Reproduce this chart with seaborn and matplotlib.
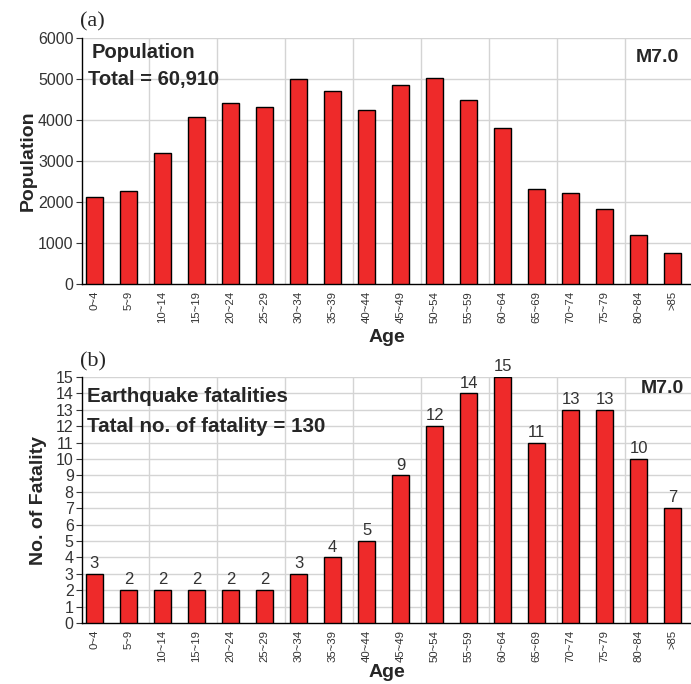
import matplotlib
matplotlib.use("Agg")
import matplotlib.pyplot as plt
import seaborn as sns
import pandas as pd

ages = ["0~4", "5~9", "10~14", "15~19", "20~24", "25~29", "30~34", "35~39",
        "40~44", "45~49", "50~54", "55~59", "60~64", "65~69", "70~74",
        "75~79", "80~84", ">85"]
population = [2130, 2270, 3190, 4070, 4410, 4320, 5000, 4720, 4240, 4850,
              5020, 4490, 3810, 2320, 2230, 1820, 1200, 760]
fatalities = [3, 2, 2, 2, 2, 2, 3, 4, 5, 9, 12, 14, 15, 11, 13, 13, 10, 7]

sns.set_style("white")
plt.rcParams['font.family'] = ['Liberation Sans', 'DejaVu Sans']

BAR = "#EE2A2A"
GRID = "#d4d4d4"
TICKC = "#333333"

fig = plt.figure(figsize=(6.91, 6.84), dpi=100)
ax1 = fig.add_axes([0.1187, 0.5848, 0.8813, 0.3596])
ax2 = fig.add_axes([0.1187, 0.0892, 0.8813, 0.3596])

df = pd.DataFrame({"Age": ages, "Population": population, "Fatality": fatalities})


def style(ax, ymax, ystep, label_y):
    ax.set_xlim(-0.36, 17.53)
    ax.set_ylim(0, ymax)
    ax.set_yticks(range(0, ymax + 1, ystep))
    for y in range(ystep, ymax + 1, ystep):
        ax.axhline(y, color=GRID, lw=1.0, zorder=0)
    for k in range(1, 9):
        ax.axvline(-0.4 + 2 * k, color=GRID, lw=1.0, zorder=0)
    for s in ["top", "right"]:
        ax.spines[s].set_visible(False)
    for s in ["left", "bottom"]:
        ax.spines[s].set_color("black")
        ax.spines[s].set_linewidth(1.0)
    ax.tick_params(axis="x", rotation=90, labelsize=8.2, colors=TICKC,
                   length=0, pad=5)
    ax.tick_params(axis="y", labelsize=11.5, colors=TICKC, length=4,
                   width=0.8, direction="out", left=True, pad=2)
    lab = ax.set_xlabel("Age", fontsize=14, fontweight="bold")
    lab.set_va("center")
    ax.xaxis.set_label_coords(0.5, label_y)
    ax.grid(False)


sns.barplot(data=df, x="Age", y="Population", color=BAR, saturation=1,
            width=0.5, edgecolor="black", linewidth=1, ax=ax1, zorder=3)
style(ax1, 6000, 1000, -(338 - 284) / 246)
ax1.set_ylabel("Population", fontsize=14, fontweight="bold", labelpad=1)

sns.barplot(data=df, x="Age", y="Fatality", color=BAR, saturation=1,
            width=0.5, edgecolor="black", linewidth=1, ax=ax2, zorder=3)
style(ax2, 15, 1, -(673 - 623) / 246)
ax2.set_ylabel("No. of Fatality", fontsize=14, fontweight="bold", labelpad=6)
for c in ax2.containers:
    ax2.bar_label(c, labels=[str(v) for v in fatalities], padding=2,
                  fontsize=12, color=TICKC)
for t in ax2.texts:
    t.set_clip_on(False)

W, H = 691, 684


def ftext(x, y, s, **kw):
    fig.text(x / W, 1 - y / H, s, **kw)


ftext(679, 57, "M7.0", fontsize=14, fontweight="bold", ha="right", va="center")
ftext(684, 389, "M7.0", fontsize=14, fontweight="bold", ha="right", va="center")
ftext(92, 53, "Population", fontsize=14.5, fontweight="bold", ha="left", va="center")
ftext(88, 79, "Total = 60,910", fontsize=14.5, fontweight="bold", ha="left", va="center")
ftext(87, 397, "Earthquake fatalities", fontsize=14.8, fontweight="bold",
      ha="left", va="center")
ftext(87, 427, "Tatal no. of fatality = 130", fontsize=14.8, fontweight="bold",
      ha="left", va="center")
ftext(80, 22, "(a)", fontsize=16, family="Liberation Serif", ha="left", va="center")
ftext(80, 362, "(b)", fontsize=16, family="Liberation Serif", ha="left", va="center")

fig.savefig("out.png", dpi=100)
